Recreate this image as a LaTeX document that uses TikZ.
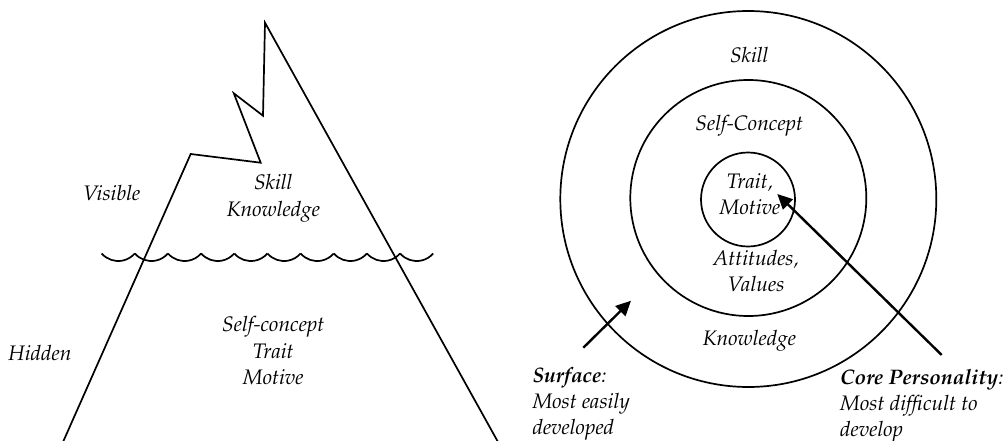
\documentclass[tikz,border=0pt]{standalone}
\usepackage[T1]{fontenc}
\usepackage{mathpazo}
\usetikzlibrary{arrows.meta}
\tikzset{
  lbl/.style={inner sep=0pt, align=center, font=\fontsize{21}{26.5}\selectfont\itshape},
  lbll/.style={inner sep=0pt, align=left, font=\fontsize{21}{26}\selectfont\itshape},
  ring/.style={draw, circle, line width=1.7pt, inner sep=0pt},
  ln/.style={line width=1.7pt, line join=miter},
  arr/.style={line width=2.4pt, -{Triangle[length=15pt,width=14pt]}},
}
\begin{document}
\begin{tikzpicture}[x=1pt,y=-1pt]
\useasboundingbox (0,0) rectangle (1008,441);
% iceberg
\draw[ln] (63,442) -- (190.7,154) -- (260.7,162.7) -- (233.8,93.3) -- (263,115.7) -- (265,22.7) -- (498,442);
% waves
\foreach \i in {0,...,9}{
  \draw[line width=1.7pt] ({101.7+33.16*\i},253.5) arc[start angle=139, end angle=41, radius=21.9];
}
\node[lbl] (vis) at (111.7,193.3) {Visible};
\node[lbl] (hid) at (40,353.3) {Hidden};
\node[lbl] (top) at (273.3,198.5) {Skill\\Knowledge};
\node[lbl] (bot) at (273.3,351) {Self-concept\\Trait\\Motive};
% circles
\node[ring, minimum size=376pt] (outer) at (748.3,199) {};
\node[ring, minimum size=236pt] (mid) at (748.3,198) {};
\node[ring, minimum size=94pt] (inner) at (748,199.5) {};
\node[lbl] (skill) at (749.3,55) {Skill};
\node[lbl] (sc) at (749.3,126) {Self-Concept};
\node[lbl] (tm) at (750,194) {Trait,\\Motive};
\node[lbl] (av) at (756,271) {Attitudes,\\Values};
\node[lbl] (kn) at (749.3,340.7) {Knowledge};
\coordinate (s0) at (583.3,347.7);
\coordinate (s1) at (631,300.7);
\coordinate (c0) at (941.7,355);
\coordinate (c1) at (777.3,194);
\draw[arr] (s0) -- (s1);
\draw[arr] (c0) -- (c1);
\node[lbll, anchor=north west] (surf) at (532.3,367) {\textbf{Surface}:\\Most easily\\developed};
\node[lbll, anchor=north west] (core) at (840,369.5) {\textbf{Core Personality}:\\Most difficult to\\develop};
\end{tikzpicture}
\end{document}
